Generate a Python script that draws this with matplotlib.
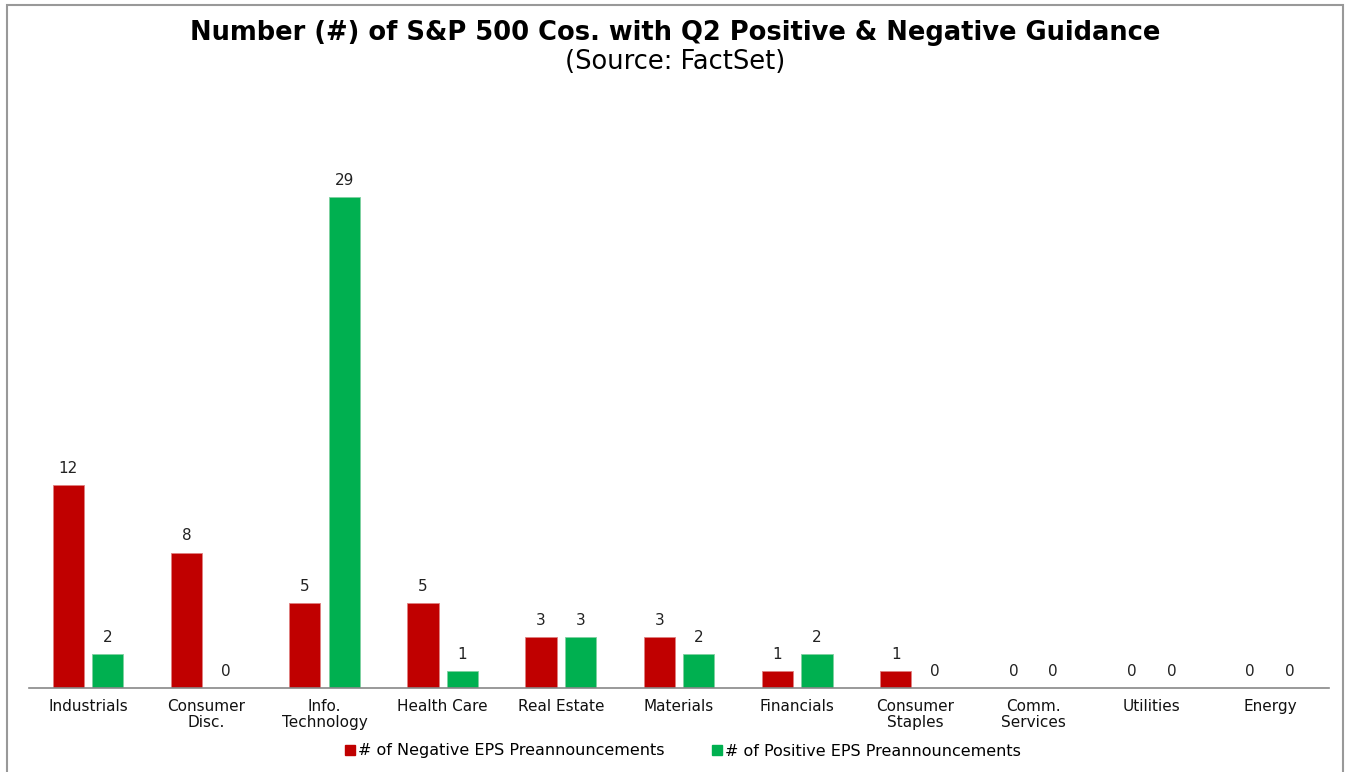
import matplotlib
matplotlib.use("Agg")
import matplotlib.pyplot as plt
from matplotlib.patches import Rectangle
from matplotlib.lines import Line2D
import numpy as np

categories = ["Industrials", "Consumer\nDisc.", "Info.\nTechnology", "Health Care", "Real Estate",
              "Materials", "Financials", "Consumer\nStaples", "Comm.\nServices", "Utilities", "Energy"]
negative = [12, 8, 5, 5, 3, 3, 1, 1, 0, 0, 0]
positive = [2, 0, 29, 1, 3, 2, 2, 0, 0, 0, 0]
series_names = ["# of Negative EPS Preannouncements", "# of Positive EPS Preannouncements"]
colors = ["#C00000", "#00B050"]

plt.rcParams['font.family'] = ['DejaVu Sans']

fig = plt.figure(figsize=(13.51, 7.72), dpi=100)
ax = fig.add_axes([29/1351, 1-688/772, 1300/1351, (688-96)/772])

x = np.arange(len(categories))
w = 0.265
off = 0.167
b1 = ax.bar(x - off, negative, w, color=colors[0], edgecolor="#E08080", linewidth=0.6)
b2 = ax.bar(x + off, positive, w, color=colors[1], edgecolor="#80D0A0", linewidth=0.6)
for bars, vals in ((b1, negative), (b2, positive)):
    for r, v in zip(bars, vals):
        ax.text(r.get_x() + r.get_width()/2, v + 0.55, str(v), ha="center", va="bottom",
                fontsize=11, color="#222222")

ax.set_xlim(-0.5, len(categories) - 0.5)
ax.set_ylim(0, 35)
ax.set_xticks(x)
ax.set_xticklabels(categories, fontsize=11, linespacing=1.05, color="#111111")
ax.tick_params(axis="x", length=0, pad=8)
ax.set_yticks([])
for s in ("top", "right", "left"):
    ax.spines[s].set_visible(False)
ax.spines["bottom"].set_color("#888888")
ax.spines["bottom"].set_linewidth(1.2)

fig.text(0.5, 1-33/772, "Number (#) of S&P 500 Cos. with Q2 Positive & Negative Guidance",
         ha="center", va="center", fontsize=18.5, fontweight="bold")
fig.text(0.5, 1-62/772, "(Source: FactSet)", ha="center", va="center", fontsize=18.5)

handles = [Line2D([], [], marker="s", linestyle="none", markersize=7, color=c) for c in colors]
fig.legend(handles, series_names, loc="center", bbox_to_anchor=(683/1351, 1-751/772),
           ncol=2, frameon=False, fontsize=11.5, handlelength=0.6, handletextpad=0.2,
           columnspacing=3.0)

fig.patches.append(Rectangle((7/1351, -0.01), (1343-7)/1351, 1-5/772 + 0.01,
                             transform=fig.transFigure, fill=False, edgecolor="#999999",
                             linewidth=1.5))

fig.savefig("out.png", dpi=100)
